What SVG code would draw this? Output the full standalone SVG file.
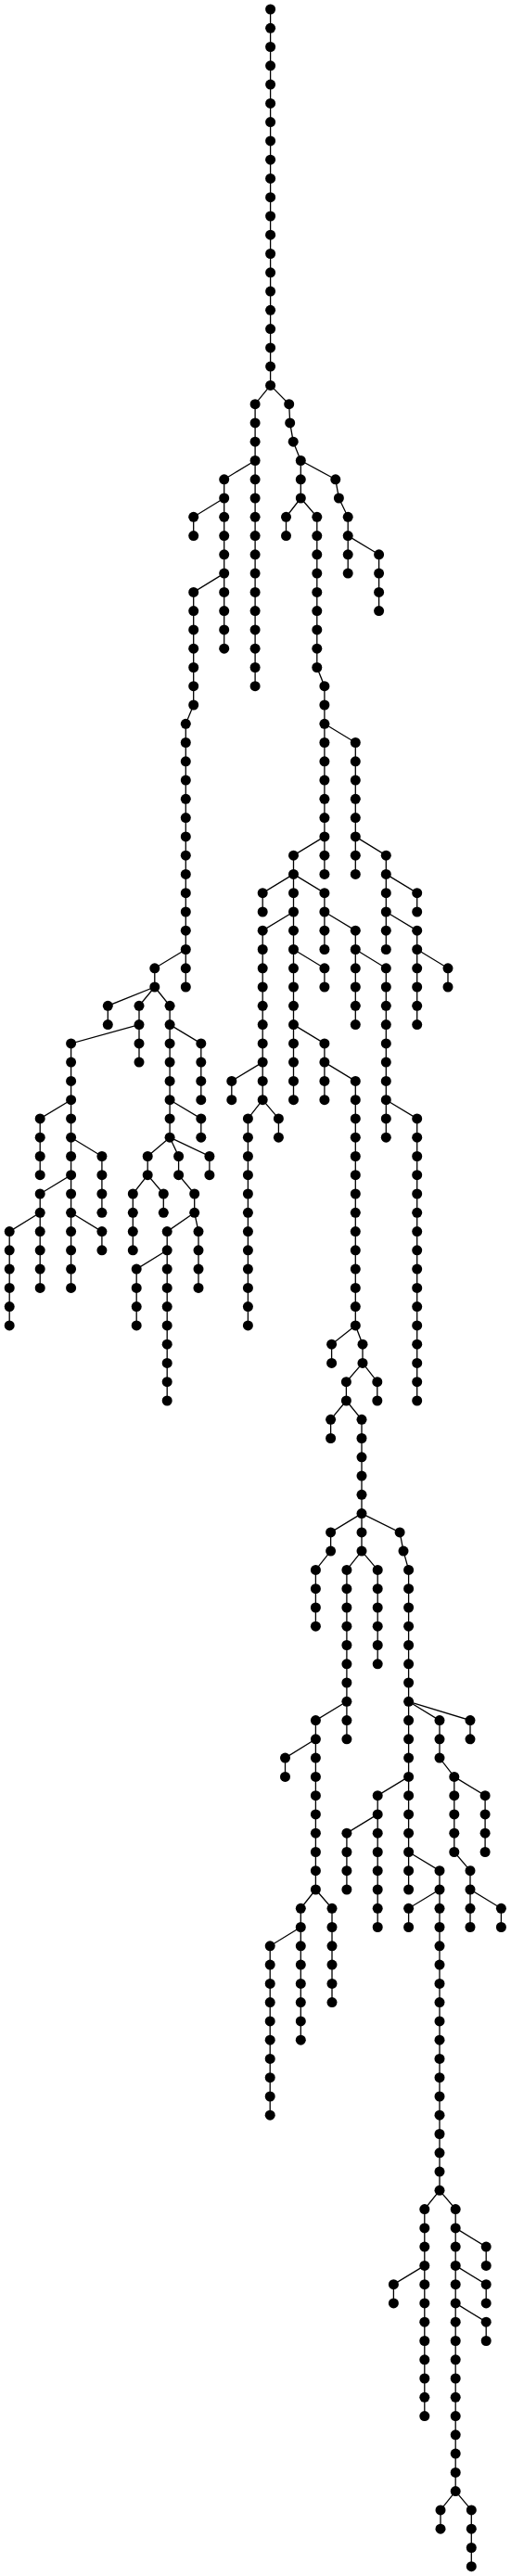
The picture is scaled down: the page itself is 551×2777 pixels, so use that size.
<svg xmlns="http://www.w3.org/2000/svg" width="551" height="2777" viewBox="0 0 551 2777">
<style>
.e path{fill:none;stroke:#000;stroke-width:1.3}
</style>
<defs><circle id="d" cx="0" cy="0" r="5.5" fill="#000"/></defs>
<rect width="551" height="2777" fill="#fff"/>
<g class="e" id="connectors">
<path d="M291.6,10 V415.4"/>
<path d="M291.6,415.4 L275.1,435.7 V739.7"/>
<path d="M291.6,415.4 L311.7,435.7 L312.7,455.9 L316.2,476.2 L324.3,496.5 V537"/>
<path d="M275.1,496.5 L241.7,516.8 V699.2"/>
<path d="M241.7,537 L208.7,557.3 V577.6"/>
<path d="M241.7,618.1 L208.7,638.4 V760 L200.3,780.3 V1064"/>
<path d="M200.3,1023.5 L166.8,1043.8 V1064"/>
<path d="M166.8,1064 L116.3,1084.3 V1104.6"/>
<path d="M166.8,1064 L150,1084.3 V1145.1"/>
<path d="M166.8,1064 L183.1,1084.3 V1226.2"/>
<path d="M150,1104.6 L76.6,1124.9 V1388.4"/>
<path d="M76.6,1185.7 L43.2,1205.9 V1266.7"/>
<path d="M76.6,1226.2 L109.9,1246.5 V1307.3"/>
<path d="M76.6,1266.7 L43.2,1287 V1388.4"/>
<path d="M43.2,1307.3 L10.2,1327.6 V1428.9"/>
<path d="M76.6,1307.3 L109.9,1327.6 V1347.8"/>
<path d="M183.1,1104.6 L216.8,1124.9 V1185.7"/>
<path d="M183.1,1185.7 L216.8,1205.9 V1226.2"/>
<path d="M183.1,1226.2 L159.2,1246.5 V1266.7"/>
<path d="M183.1,1226.2 L192.6,1246.5 V1266.7"/>
<path d="M183.1,1226.2 L225.9,1246.5 V1266.7"/>
<path d="M159.2,1266.7 L143.3,1287 V1347.8"/>
<path d="M159.2,1266.7 L176.3,1287 V1307.3"/>
<path d="M192.6,1266.7 L209.7,1287 V1307.3"/>
<path d="M209.7,1307.3 L180.2,1327.6 V1510"/>
<path d="M209.7,1307.3 L214,1327.6 V1388.4"/>
<path d="M180.2,1347.8 L147.2,1368.1 V1428.9"/>
<path d="M324.3,537 L308.5,557.3 V577.6"/>
<path d="M324.3,537 L341.8,557.3 V719.5 L349.9,739.7 V942.4"/>
<path d="M349.9,780.3 L383.3,800.5 V942.4"/>
<path d="M383.3,901.9 L416.3,922.2 V1023.5"/>
<path d="M416.3,942.4 L449.7,962.7 V983"/>
<path d="M416.3,983 L449.7,1003.2 V1104.6"/>
<path d="M449.7,1023.5 L483,1043.8 V1064"/>
<path d="M349.9,901.9 L316.5,922.2 V1185.7"/>
<path d="M316.5,942.4 L283.2,962.7 V983"/>
<path d="M316.5,942.4 L349.9,962.7 V1023.5"/>
<path d="M349.9,983 L383.3,1003.2 V1104.6"/>
<path d="M383.3,1023.5 L416.3,1043.8 V1226.2"/>
<path d="M416.3,1185.7 L449.7,1205.9 V1510"/>
<path d="M316.5,983 L283.2,1003.2 V1185.7"/>
<path d="M283.2,1145.1 L249.8,1165.4 V1185.7"/>
<path d="M283.2,1185.7 L267.4,1205.9 V1428.9"/>
<path d="M283.2,1185.7 L300.4,1205.9 V1226.2"/>
<path d="M316.5,1023.5 L349.9,1043.8 V1064"/>
<path d="M316.5,1104.6 L349.9,1124.9 V1185.7"/>
<path d="M349.9,1145.1 L383.3,1165.4 V1428.9"/>
<path d="M383.3,1428.9 L357.6,1449.2 V1469.4"/>
<path d="M383.3,1428.9 L391,1449.2 V1469.4"/>
<path d="M391,1469.4 L406.8,1489.7 V1510"/>
<path d="M391,1469.4 L373.4,1489.7 V1510"/>
<path d="M373.4,1510 L356.6,1530.3 V1550.5"/>
<path d="M373.4,1510 L390,1530.3 V1672.1"/>
<path d="M324.3,496.5 L361.8,516.8 L365.4,537 L375.2,557.3 V618.1"/>
<path d="M375.2,577.6 L408.6,597.8 V658.6"/>
<path d="M390,1631.6 L356.6,1651.9 V1672.1 L340.4,1692.4 V1753.2"/>
<path d="M390,1631.6 L431.1,1651.9 L435,1672.1 L440.6,1692.4 V2037"/>
<path d="M390,1672.1 L373.9,1692.4 V1874.8"/>
<path d="M390,1672.1 L407.2,1692.4 V1793.8"/>
<path d="M373.9,1834.3 L340.4,1854.6 V2037"/>
<path d="M340.4,1874.8 L307.5,1895.1 V1915.4"/>
<path d="M340.4,2037 L324.3,2057.3 V2199.2"/>
<path d="M340.4,2037 L358,2057.3 V2158.6"/>
<path d="M324.3,2077.5 L291.2,2097.8 V2280.2"/>
<path d="M440.6,1834.3 L474,1854.6 V1895.1 L489.8,1915.4 V1996.5 L507,2016.7 V2077.5"/>
<path d="M440.6,1834.3 L507,1854.6 V1874.8"/>
<path d="M489.8,1915.4 L523.1,1935.7 V1996.5"/>
<path d="M507,2037 L540.4,2057.3 V2077.5"/>
<path d="M440.6,1915.4 L407.2,1935.7 V2077.5"/>
<path d="M407.2,1955.9 L373.9,1976.2 V2037"/>
<path d="M440.6,1996.5 L474,2016.7 V2361.3"/>
<path d="M474,2037 L440.6,2057.3 V2077.5"/>
<path d="M474,2361.3 L457.8,2381.6 V2604.6"/>
<path d="M457.8,2442.4 L424.4,2462.7 V2482.9"/>
<path d="M474,2361.3 L491.2,2381.6 V2685.6"/>
<path d="M491.2,2401.9 L524.2,2422.1 V2442.4"/>
<path d="M491.2,2442.4 L524.2,2462.7 V2482.9"/>
<path d="M491.2,2482.9 L524.2,2503.2 V2523.5"/>
<path d="M491.2,2685.6 L475,2705.9 V2726.2"/>
<path d="M491.2,2685.6 L508.3,2705.9 V2766.7"/>
</g>
<g id="nodes">
<g id="n1"><use href="#d" x="291.6" y="10"/></g>
<g id="n2"><use href="#d" x="291.6" y="30.3"/></g>
<g id="n3"><use href="#d" x="291.6" y="50.5"/></g>
<g id="n4"><use href="#d" x="291.6" y="70.8"/></g>
<g id="n5"><use href="#d" x="291.6" y="91.1"/></g>
<g id="n6"><use href="#d" x="291.6" y="111.4"/></g>
<g id="n7"><use href="#d" x="291.6" y="131.6"/></g>
<g id="n8"><use href="#d" x="291.6" y="151.9"/></g>
<g id="n9"><use href="#d" x="291.6" y="172.2"/></g>
<g id="n10"><use href="#d" x="291.6" y="192.4"/></g>
<g id="n11"><use href="#d" x="291.6" y="212.7"/></g>
<g id="n12"><use href="#d" x="291.6" y="233"/></g>
<g id="n13"><use href="#d" x="291.6" y="253.2"/></g>
<g id="n14"><use href="#d" x="291.6" y="273.5"/></g>
<g id="n15"><use href="#d" x="291.6" y="293.8"/></g>
<g id="n16"><use href="#d" x="291.6" y="314.1"/></g>
<g id="n17"><use href="#d" x="291.6" y="334.3"/></g>
<g id="n18"><use href="#d" x="291.6" y="354.6"/></g>
<g id="n19"><use href="#d" x="291.6" y="374.9"/></g>
<g id="n20"><use href="#d" x="291.6" y="395.1"/></g>
<g id="n21"><use href="#d" x="291.6" y="415.4"/></g>
<g id="n22"><use href="#d" x="275.1" y="435.7"/></g>
<g id="n23"><use href="#d" x="275.1" y="455.9"/></g>
<g id="n24"><use href="#d" x="275.1" y="476.2"/></g>
<g id="n25"><use href="#d" x="275.1" y="496.5"/></g>
<g id="n26"><use href="#d" x="275.1" y="516.8"/></g>
<g id="n27"><use href="#d" x="275.1" y="537"/></g>
<g id="n28"><use href="#d" x="275.1" y="557.3"/></g>
<g id="n29"><use href="#d" x="275.1" y="577.6"/></g>
<g id="n30"><use href="#d" x="275.1" y="597.8"/></g>
<g id="n31"><use href="#d" x="275.1" y="618.1"/></g>
<g id="n32"><use href="#d" x="275.1" y="638.4"/></g>
<g id="n33"><use href="#d" x="275.1" y="658.6"/></g>
<g id="n34"><use href="#d" x="275.1" y="678.9"/></g>
<g id="n35"><use href="#d" x="275.1" y="699.2"/></g>
<g id="n36"><use href="#d" x="275.1" y="719.5"/></g>
<g id="n37"><use href="#d" x="275.1" y="739.7"/></g>
<g id="n38"><use href="#d" x="311.7" y="435.7"/></g>
<g id="n39"><use href="#d" x="312.7" y="455.9"/></g>
<g id="n40"><use href="#d" x="316.2" y="476.2"/></g>
<g id="n41"><use href="#d" x="324.3" y="496.5"/></g>
<g id="n42"><use href="#d" x="324.3" y="516.8"/></g>
<g id="n43"><use href="#d" x="324.3" y="537"/></g>
<g id="n44"><use href="#d" x="241.7" y="516.8"/></g>
<g id="n45"><use href="#d" x="241.7" y="537"/></g>
<g id="n46"><use href="#d" x="241.7" y="557.3"/></g>
<g id="n47"><use href="#d" x="241.7" y="577.6"/></g>
<g id="n48"><use href="#d" x="241.7" y="597.8"/></g>
<g id="n49"><use href="#d" x="241.7" y="618.1"/></g>
<g id="n50"><use href="#d" x="241.7" y="638.4"/></g>
<g id="n51"><use href="#d" x="241.7" y="658.6"/></g>
<g id="n52"><use href="#d" x="241.7" y="678.9"/></g>
<g id="n53"><use href="#d" x="241.7" y="699.2"/></g>
<g id="n54"><use href="#d" x="208.7" y="557.3"/></g>
<g id="n55"><use href="#d" x="208.7" y="577.6"/></g>
<g id="n56"><use href="#d" x="208.7" y="638.4"/></g>
<g id="n57"><use href="#d" x="208.7" y="658.6"/></g>
<g id="n58"><use href="#d" x="208.7" y="678.9"/></g>
<g id="n59"><use href="#d" x="208.7" y="699.2"/></g>
<g id="n60"><use href="#d" x="208.7" y="719.5"/></g>
<g id="n61"><use href="#d" x="208.7" y="739.7"/></g>
<g id="n62"><use href="#d" x="208.7" y="760"/></g>
<g id="n63"><use href="#d" x="200.3" y="780.3"/></g>
<g id="n64"><use href="#d" x="200.3" y="800.5"/></g>
<g id="n65"><use href="#d" x="200.3" y="820.8"/></g>
<g id="n66"><use href="#d" x="200.3" y="841.1"/></g>
<g id="n67"><use href="#d" x="200.3" y="861.3"/></g>
<g id="n68"><use href="#d" x="200.3" y="881.6"/></g>
<g id="n69"><use href="#d" x="200.3" y="901.9"/></g>
<g id="n70"><use href="#d" x="200.3" y="922.2"/></g>
<g id="n71"><use href="#d" x="200.3" y="942.4"/></g>
<g id="n72"><use href="#d" x="200.3" y="962.7"/></g>
<g id="n73"><use href="#d" x="200.3" y="983"/></g>
<g id="n74"><use href="#d" x="200.3" y="1003.2"/></g>
<g id="n75"><use href="#d" x="200.3" y="1023.5"/></g>
<g id="n76"><use href="#d" x="200.3" y="1043.8"/></g>
<g id="n77"><use href="#d" x="200.3" y="1064"/></g>
<g id="n78"><use href="#d" x="166.8" y="1043.8"/></g>
<g id="n79"><use href="#d" x="166.8" y="1064"/></g>
<g id="n80"><use href="#d" x="116.3" y="1084.3"/></g>
<g id="n81"><use href="#d" x="116.3" y="1104.6"/></g>
<g id="n82"><use href="#d" x="150" y="1084.3"/></g>
<g id="n83"><use href="#d" x="150" y="1104.6"/></g>
<g id="n84"><use href="#d" x="150" y="1124.9"/></g>
<g id="n85"><use href="#d" x="150" y="1145.1"/></g>
<g id="n86"><use href="#d" x="183.1" y="1084.3"/></g>
<g id="n87"><use href="#d" x="183.1" y="1104.6"/></g>
<g id="n88"><use href="#d" x="183.1" y="1124.9"/></g>
<g id="n89"><use href="#d" x="183.1" y="1145.1"/></g>
<g id="n90"><use href="#d" x="183.1" y="1165.4"/></g>
<g id="n91"><use href="#d" x="183.1" y="1185.7"/></g>
<g id="n92"><use href="#d" x="183.1" y="1205.9"/></g>
<g id="n93"><use href="#d" x="183.1" y="1226.2"/></g>
<g id="n94"><use href="#d" x="76.6" y="1124.9"/></g>
<g id="n95"><use href="#d" x="76.6" y="1145.1"/></g>
<g id="n96"><use href="#d" x="76.6" y="1165.4"/></g>
<g id="n97"><use href="#d" x="76.6" y="1185.7"/></g>
<g id="n98"><use href="#d" x="76.6" y="1205.9"/></g>
<g id="n99"><use href="#d" x="76.6" y="1226.2"/></g>
<g id="n100"><use href="#d" x="76.6" y="1246.5"/></g>
<g id="n101"><use href="#d" x="76.6" y="1266.7"/></g>
<g id="n102"><use href="#d" x="76.6" y="1287"/></g>
<g id="n103"><use href="#d" x="76.6" y="1307.3"/></g>
<g id="n104"><use href="#d" x="76.6" y="1327.6"/></g>
<g id="n105"><use href="#d" x="76.6" y="1347.8"/></g>
<g id="n106"><use href="#d" x="76.6" y="1368.1"/></g>
<g id="n107"><use href="#d" x="76.6" y="1388.4"/></g>
<g id="n108"><use href="#d" x="43.2" y="1205.9"/></g>
<g id="n109"><use href="#d" x="43.2" y="1226.2"/></g>
<g id="n110"><use href="#d" x="43.2" y="1246.5"/></g>
<g id="n111"><use href="#d" x="43.2" y="1266.7"/></g>
<g id="n112"><use href="#d" x="109.9" y="1246.5"/></g>
<g id="n113"><use href="#d" x="109.9" y="1266.7"/></g>
<g id="n114"><use href="#d" x="109.9" y="1287"/></g>
<g id="n115"><use href="#d" x="109.9" y="1307.3"/></g>
<g id="n116"><use href="#d" x="43.2" y="1287"/></g>
<g id="n117"><use href="#d" x="43.2" y="1307.3"/></g>
<g id="n118"><use href="#d" x="43.2" y="1327.6"/></g>
<g id="n119"><use href="#d" x="43.2" y="1347.8"/></g>
<g id="n120"><use href="#d" x="43.2" y="1368.1"/></g>
<g id="n121"><use href="#d" x="43.2" y="1388.4"/></g>
<g id="n122"><use href="#d" x="10.2" y="1327.6"/></g>
<g id="n123"><use href="#d" x="10.2" y="1347.8"/></g>
<g id="n124"><use href="#d" x="10.2" y="1368.1"/></g>
<g id="n125"><use href="#d" x="10.2" y="1388.4"/></g>
<g id="n126"><use href="#d" x="10.2" y="1408.6"/></g>
<g id="n127"><use href="#d" x="10.2" y="1428.9"/></g>
<g id="n128"><use href="#d" x="109.9" y="1327.6"/></g>
<g id="n129"><use href="#d" x="109.9" y="1347.8"/></g>
<g id="n130"><use href="#d" x="216.8" y="1124.9"/></g>
<g id="n131"><use href="#d" x="216.8" y="1145.1"/></g>
<g id="n132"><use href="#d" x="216.8" y="1165.4"/></g>
<g id="n133"><use href="#d" x="216.8" y="1185.7"/></g>
<g id="n134"><use href="#d" x="216.8" y="1205.9"/></g>
<g id="n135"><use href="#d" x="216.8" y="1226.2"/></g>
<g id="n136"><use href="#d" x="159.2" y="1246.5"/></g>
<g id="n137"><use href="#d" x="159.2" y="1266.7"/></g>
<g id="n138"><use href="#d" x="192.6" y="1246.5"/></g>
<g id="n139"><use href="#d" x="192.6" y="1266.7"/></g>
<g id="n140"><use href="#d" x="225.9" y="1246.5"/></g>
<g id="n141"><use href="#d" x="225.9" y="1266.7"/></g>
<g id="n142"><use href="#d" x="143.3" y="1287"/></g>
<g id="n143"><use href="#d" x="143.3" y="1307.3"/></g>
<g id="n144"><use href="#d" x="143.3" y="1327.6"/></g>
<g id="n145"><use href="#d" x="143.3" y="1347.8"/></g>
<g id="n146"><use href="#d" x="176.3" y="1287"/></g>
<g id="n147"><use href="#d" x="176.3" y="1307.3"/></g>
<g id="n148"><use href="#d" x="209.7" y="1287"/></g>
<g id="n149"><use href="#d" x="209.7" y="1307.3"/></g>
<g id="n150"><use href="#d" x="180.2" y="1327.6"/></g>
<g id="n151"><use href="#d" x="180.2" y="1347.8"/></g>
<g id="n152"><use href="#d" x="180.2" y="1368.1"/></g>
<g id="n153"><use href="#d" x="180.2" y="1388.4"/></g>
<g id="n154"><use href="#d" x="180.2" y="1408.6"/></g>
<g id="n155"><use href="#d" x="180.2" y="1428.9"/></g>
<g id="n156"><use href="#d" x="180.2" y="1449.2"/></g>
<g id="n157"><use href="#d" x="180.2" y="1469.4"/></g>
<g id="n158"><use href="#d" x="180.2" y="1489.7"/></g>
<g id="n159"><use href="#d" x="180.2" y="1510"/></g>
<g id="n160"><use href="#d" x="214" y="1327.6"/></g>
<g id="n161"><use href="#d" x="214" y="1347.8"/></g>
<g id="n162"><use href="#d" x="214" y="1368.1"/></g>
<g id="n163"><use href="#d" x="214" y="1388.4"/></g>
<g id="n164"><use href="#d" x="147.2" y="1368.1"/></g>
<g id="n165"><use href="#d" x="147.2" y="1388.4"/></g>
<g id="n166"><use href="#d" x="147.2" y="1408.6"/></g>
<g id="n167"><use href="#d" x="147.2" y="1428.9"/></g>
<g id="n168"><use href="#d" x="308.5" y="557.3"/></g>
<g id="n169"><use href="#d" x="308.5" y="577.6"/></g>
<g id="n170"><use href="#d" x="341.8" y="557.3"/></g>
<g id="n171"><use href="#d" x="341.8" y="577.6"/></g>
<g id="n172"><use href="#d" x="341.8" y="597.8"/></g>
<g id="n173"><use href="#d" x="341.8" y="618.1"/></g>
<g id="n174"><use href="#d" x="341.8" y="638.4"/></g>
<g id="n175"><use href="#d" x="341.8" y="658.6"/></g>
<g id="n176"><use href="#d" x="341.8" y="678.9"/></g>
<g id="n177"><use href="#d" x="341.8" y="699.2"/></g>
<g id="n178"><use href="#d" x="341.8" y="719.5"/></g>
<g id="n179"><use href="#d" x="349.9" y="739.7"/></g>
<g id="n180"><use href="#d" x="349.9" y="760"/></g>
<g id="n181"><use href="#d" x="349.9" y="780.3"/></g>
<g id="n182"><use href="#d" x="349.9" y="800.5"/></g>
<g id="n183"><use href="#d" x="349.9" y="820.8"/></g>
<g id="n184"><use href="#d" x="349.9" y="841.1"/></g>
<g id="n185"><use href="#d" x="349.9" y="861.3"/></g>
<g id="n186"><use href="#d" x="349.9" y="881.6"/></g>
<g id="n187"><use href="#d" x="349.9" y="901.9"/></g>
<g id="n188"><use href="#d" x="349.9" y="922.2"/></g>
<g id="n189"><use href="#d" x="349.9" y="942.4"/></g>
<g id="n190"><use href="#d" x="383.3" y="800.5"/></g>
<g id="n191"><use href="#d" x="383.3" y="820.8"/></g>
<g id="n192"><use href="#d" x="383.3" y="841.1"/></g>
<g id="n193"><use href="#d" x="383.3" y="861.3"/></g>
<g id="n194"><use href="#d" x="383.3" y="881.6"/></g>
<g id="n195"><use href="#d" x="383.3" y="901.9"/></g>
<g id="n196"><use href="#d" x="383.3" y="922.2"/></g>
<g id="n197"><use href="#d" x="383.3" y="942.4"/></g>
<g id="n198"><use href="#d" x="416.3" y="922.2"/></g>
<g id="n199"><use href="#d" x="416.3" y="942.4"/></g>
<g id="n200"><use href="#d" x="416.3" y="962.7"/></g>
<g id="n201"><use href="#d" x="416.3" y="983"/></g>
<g id="n202"><use href="#d" x="416.3" y="1003.2"/></g>
<g id="n203"><use href="#d" x="416.3" y="1023.5"/></g>
<g id="n204"><use href="#d" x="449.7" y="962.7"/></g>
<g id="n205"><use href="#d" x="449.7" y="983"/></g>
<g id="n206"><use href="#d" x="449.7" y="1003.2"/></g>
<g id="n207"><use href="#d" x="449.7" y="1023.5"/></g>
<g id="n208"><use href="#d" x="449.7" y="1043.8"/></g>
<g id="n209"><use href="#d" x="449.7" y="1064"/></g>
<g id="n210"><use href="#d" x="449.7" y="1084.3"/></g>
<g id="n211"><use href="#d" x="449.7" y="1104.6"/></g>
<g id="n212"><use href="#d" x="483" y="1043.8"/></g>
<g id="n213"><use href="#d" x="483" y="1064"/></g>
<g id="n214"><use href="#d" x="316.5" y="922.2"/></g>
<g id="n215"><use href="#d" x="316.5" y="942.4"/></g>
<g id="n216"><use href="#d" x="316.5" y="962.7"/></g>
<g id="n217"><use href="#d" x="316.5" y="983"/></g>
<g id="n218"><use href="#d" x="316.5" y="1003.2"/></g>
<g id="n219"><use href="#d" x="316.5" y="1023.5"/></g>
<g id="n220"><use href="#d" x="316.5" y="1043.8"/></g>
<g id="n221"><use href="#d" x="316.5" y="1064"/></g>
<g id="n222"><use href="#d" x="316.5" y="1084.3"/></g>
<g id="n223"><use href="#d" x="316.5" y="1104.6"/></g>
<g id="n224"><use href="#d" x="316.5" y="1124.9"/></g>
<g id="n225"><use href="#d" x="316.5" y="1145.1"/></g>
<g id="n226"><use href="#d" x="316.5" y="1165.4"/></g>
<g id="n227"><use href="#d" x="316.5" y="1185.7"/></g>
<g id="n228"><use href="#d" x="283.2" y="962.7"/></g>
<g id="n229"><use href="#d" x="283.2" y="983"/></g>
<g id="n230"><use href="#d" x="349.9" y="962.7"/></g>
<g id="n231"><use href="#d" x="349.9" y="983"/></g>
<g id="n232"><use href="#d" x="349.9" y="1003.2"/></g>
<g id="n233"><use href="#d" x="349.9" y="1023.5"/></g>
<g id="n234"><use href="#d" x="383.3" y="1003.2"/></g>
<g id="n235"><use href="#d" x="383.3" y="1023.5"/></g>
<g id="n236"><use href="#d" x="383.3" y="1043.8"/></g>
<g id="n237"><use href="#d" x="383.3" y="1064"/></g>
<g id="n238"><use href="#d" x="383.3" y="1084.3"/></g>
<g id="n239"><use href="#d" x="383.3" y="1104.6"/></g>
<g id="n240"><use href="#d" x="416.3" y="1043.8"/></g>
<g id="n241"><use href="#d" x="416.3" y="1064"/></g>
<g id="n242"><use href="#d" x="416.3" y="1084.3"/></g>
<g id="n243"><use href="#d" x="416.3" y="1104.6"/></g>
<g id="n244"><use href="#d" x="416.3" y="1124.9"/></g>
<g id="n245"><use href="#d" x="416.3" y="1145.1"/></g>
<g id="n246"><use href="#d" x="416.3" y="1165.4"/></g>
<g id="n247"><use href="#d" x="416.3" y="1185.7"/></g>
<g id="n248"><use href="#d" x="416.3" y="1205.9"/></g>
<g id="n249"><use href="#d" x="416.3" y="1226.2"/></g>
<g id="n250"><use href="#d" x="449.7" y="1205.9"/></g>
<g id="n251"><use href="#d" x="449.7" y="1226.2"/></g>
<g id="n252"><use href="#d" x="449.7" y="1246.5"/></g>
<g id="n253"><use href="#d" x="449.7" y="1266.7"/></g>
<g id="n254"><use href="#d" x="449.7" y="1287"/></g>
<g id="n255"><use href="#d" x="449.7" y="1307.3"/></g>
<g id="n256"><use href="#d" x="449.7" y="1327.6"/></g>
<g id="n257"><use href="#d" x="449.7" y="1347.8"/></g>
<g id="n258"><use href="#d" x="449.7" y="1368.1"/></g>
<g id="n259"><use href="#d" x="449.7" y="1388.4"/></g>
<g id="n260"><use href="#d" x="449.7" y="1408.6"/></g>
<g id="n261"><use href="#d" x="449.7" y="1428.9"/></g>
<g id="n262"><use href="#d" x="449.7" y="1449.2"/></g>
<g id="n263"><use href="#d" x="449.7" y="1469.4"/></g>
<g id="n264"><use href="#d" x="449.7" y="1489.7"/></g>
<g id="n265"><use href="#d" x="449.7" y="1510"/></g>
<g id="n266"><use href="#d" x="283.2" y="1003.2"/></g>
<g id="n267"><use href="#d" x="283.2" y="1023.5"/></g>
<g id="n268"><use href="#d" x="283.2" y="1043.8"/></g>
<g id="n269"><use href="#d" x="283.2" y="1064"/></g>
<g id="n270"><use href="#d" x="283.2" y="1084.3"/></g>
<g id="n271"><use href="#d" x="283.2" y="1104.6"/></g>
<g id="n272"><use href="#d" x="283.2" y="1124.9"/></g>
<g id="n273"><use href="#d" x="283.2" y="1145.1"/></g>
<g id="n274"><use href="#d" x="283.2" y="1165.4"/></g>
<g id="n275"><use href="#d" x="283.2" y="1185.7"/></g>
<g id="n276"><use href="#d" x="249.8" y="1165.4"/></g>
<g id="n277"><use href="#d" x="249.8" y="1185.7"/></g>
<g id="n278"><use href="#d" x="267.4" y="1205.9"/></g>
<g id="n279"><use href="#d" x="267.4" y="1226.2"/></g>
<g id="n280"><use href="#d" x="267.4" y="1246.5"/></g>
<g id="n281"><use href="#d" x="267.4" y="1266.7"/></g>
<g id="n282"><use href="#d" x="267.4" y="1287"/></g>
<g id="n283"><use href="#d" x="267.4" y="1307.3"/></g>
<g id="n284"><use href="#d" x="267.4" y="1327.6"/></g>
<g id="n285"><use href="#d" x="267.4" y="1347.8"/></g>
<g id="n286"><use href="#d" x="267.4" y="1368.1"/></g>
<g id="n287"><use href="#d" x="267.4" y="1388.4"/></g>
<g id="n288"><use href="#d" x="267.4" y="1408.6"/></g>
<g id="n289"><use href="#d" x="267.4" y="1428.9"/></g>
<g id="n290"><use href="#d" x="300.4" y="1205.9"/></g>
<g id="n291"><use href="#d" x="300.4" y="1226.2"/></g>
<g id="n292"><use href="#d" x="349.9" y="1043.8"/></g>
<g id="n293"><use href="#d" x="349.9" y="1064"/></g>
<g id="n294"><use href="#d" x="349.9" y="1124.9"/></g>
<g id="n295"><use href="#d" x="349.9" y="1145.1"/></g>
<g id="n296"><use href="#d" x="349.9" y="1165.4"/></g>
<g id="n297"><use href="#d" x="349.9" y="1185.7"/></g>
<g id="n298"><use href="#d" x="383.3" y="1165.4"/></g>
<g id="n299"><use href="#d" x="383.3" y="1185.7"/></g>
<g id="n300"><use href="#d" x="383.3" y="1205.9"/></g>
<g id="n301"><use href="#d" x="383.3" y="1226.2"/></g>
<g id="n302"><use href="#d" x="383.3" y="1246.5"/></g>
<g id="n303"><use href="#d" x="383.3" y="1266.7"/></g>
<g id="n304"><use href="#d" x="383.3" y="1287"/></g>
<g id="n305"><use href="#d" x="383.3" y="1307.3"/></g>
<g id="n306"><use href="#d" x="383.3" y="1327.6"/></g>
<g id="n307"><use href="#d" x="383.3" y="1347.8"/></g>
<g id="n308"><use href="#d" x="383.3" y="1368.1"/></g>
<g id="n309"><use href="#d" x="383.3" y="1388.4"/></g>
<g id="n310"><use href="#d" x="383.3" y="1408.6"/></g>
<g id="n311"><use href="#d" x="383.3" y="1428.9"/></g>
<g id="n312"><use href="#d" x="357.6" y="1449.2"/></g>
<g id="n313"><use href="#d" x="357.6" y="1469.4"/></g>
<g id="n314"><use href="#d" x="391" y="1449.2"/></g>
<g id="n315"><use href="#d" x="391" y="1469.4"/></g>
<g id="n316"><use href="#d" x="406.8" y="1489.7"/></g>
<g id="n317"><use href="#d" x="406.8" y="1510"/></g>
<g id="n318"><use href="#d" x="373.4" y="1489.7"/></g>
<g id="n319"><use href="#d" x="373.4" y="1510"/></g>
<g id="n320"><use href="#d" x="356.6" y="1530.3"/></g>
<g id="n321"><use href="#d" x="356.6" y="1550.5"/></g>
<g id="n322"><use href="#d" x="390" y="1530.3"/></g>
<g id="n323"><use href="#d" x="390" y="1550.5"/></g>
<g id="n324"><use href="#d" x="390" y="1570.8"/></g>
<g id="n325"><use href="#d" x="390" y="1591.1"/></g>
<g id="n326"><use href="#d" x="390" y="1611.3"/></g>
<g id="n327"><use href="#d" x="390" y="1631.6"/></g>
<g id="n328"><use href="#d" x="390" y="1651.9"/></g>
<g id="n329"><use href="#d" x="390" y="1672.1"/></g>
<g id="n330"><use href="#d" x="361.8" y="516.8"/></g>
<g id="n331"><use href="#d" x="365.4" y="537"/></g>
<g id="n332"><use href="#d" x="375.2" y="557.3"/></g>
<g id="n333"><use href="#d" x="375.2" y="577.6"/></g>
<g id="n334"><use href="#d" x="375.2" y="597.8"/></g>
<g id="n335"><use href="#d" x="375.2" y="618.1"/></g>
<g id="n336"><use href="#d" x="408.6" y="597.8"/></g>
<g id="n337"><use href="#d" x="408.6" y="618.1"/></g>
<g id="n338"><use href="#d" x="408.6" y="638.4"/></g>
<g id="n339"><use href="#d" x="408.6" y="658.6"/></g>
<g id="n340"><use href="#d" x="356.6" y="1651.9"/></g>
<g id="n341"><use href="#d" x="356.6" y="1672.1"/></g>
<g id="n342"><use href="#d" x="340.4" y="1692.4"/></g>
<g id="n343"><use href="#d" x="340.4" y="1712.7"/></g>
<g id="n344"><use href="#d" x="340.4" y="1733"/></g>
<g id="n345"><use href="#d" x="340.4" y="1753.2"/></g>
<g id="n346"><use href="#d" x="431.1" y="1651.9"/></g>
<g id="n347"><use href="#d" x="435" y="1672.1"/></g>
<g id="n348"><use href="#d" x="440.6" y="1692.4"/></g>
<g id="n349"><use href="#d" x="440.6" y="1712.7"/></g>
<g id="n350"><use href="#d" x="440.6" y="1733"/></g>
<g id="n351"><use href="#d" x="440.6" y="1753.2"/></g>
<g id="n352"><use href="#d" x="440.6" y="1773.5"/></g>
<g id="n353"><use href="#d" x="440.6" y="1793.8"/></g>
<g id="n354"><use href="#d" x="440.6" y="1814"/></g>
<g id="n355"><use href="#d" x="440.6" y="1834.3"/></g>
<g id="n356"><use href="#d" x="440.6" y="1854.6"/></g>
<g id="n357"><use href="#d" x="440.6" y="1874.8"/></g>
<g id="n358"><use href="#d" x="440.6" y="1895.1"/></g>
<g id="n359"><use href="#d" x="440.6" y="1915.4"/></g>
<g id="n360"><use href="#d" x="440.6" y="1935.7"/></g>
<g id="n361"><use href="#d" x="440.6" y="1955.9"/></g>
<g id="n362"><use href="#d" x="440.6" y="1976.2"/></g>
<g id="n363"><use href="#d" x="440.6" y="1996.5"/></g>
<g id="n364"><use href="#d" x="440.6" y="2016.7"/></g>
<g id="n365"><use href="#d" x="440.6" y="2037"/></g>
<g id="n366"><use href="#d" x="373.9" y="1692.4"/></g>
<g id="n367"><use href="#d" x="373.9" y="1712.7"/></g>
<g id="n368"><use href="#d" x="373.9" y="1733"/></g>
<g id="n369"><use href="#d" x="373.9" y="1753.2"/></g>
<g id="n370"><use href="#d" x="373.9" y="1773.5"/></g>
<g id="n371"><use href="#d" x="373.9" y="1793.8"/></g>
<g id="n372"><use href="#d" x="373.9" y="1814"/></g>
<g id="n373"><use href="#d" x="373.9" y="1834.3"/></g>
<g id="n374"><use href="#d" x="373.9" y="1854.6"/></g>
<g id="n375"><use href="#d" x="373.9" y="1874.8"/></g>
<g id="n376"><use href="#d" x="407.2" y="1692.4"/></g>
<g id="n377"><use href="#d" x="407.2" y="1712.7"/></g>
<g id="n378"><use href="#d" x="407.2" y="1733"/></g>
<g id="n379"><use href="#d" x="407.2" y="1753.2"/></g>
<g id="n380"><use href="#d" x="407.2" y="1773.5"/></g>
<g id="n381"><use href="#d" x="407.2" y="1793.8"/></g>
<g id="n382"><use href="#d" x="340.4" y="1854.6"/></g>
<g id="n383"><use href="#d" x="340.4" y="1874.8"/></g>
<g id="n384"><use href="#d" x="340.4" y="1895.1"/></g>
<g id="n385"><use href="#d" x="340.4" y="1915.4"/></g>
<g id="n386"><use href="#d" x="340.4" y="1935.7"/></g>
<g id="n387"><use href="#d" x="340.4" y="1955.9"/></g>
<g id="n388"><use href="#d" x="340.4" y="1976.2"/></g>
<g id="n389"><use href="#d" x="340.4" y="1996.5"/></g>
<g id="n390"><use href="#d" x="340.4" y="2016.7"/></g>
<g id="n391"><use href="#d" x="340.4" y="2037"/></g>
<g id="n392"><use href="#d" x="307.5" y="1895.1"/></g>
<g id="n393"><use href="#d" x="307.5" y="1915.4"/></g>
<g id="n394"><use href="#d" x="324.3" y="2057.3"/></g>
<g id="n395"><use href="#d" x="324.3" y="2077.5"/></g>
<g id="n396"><use href="#d" x="324.3" y="2097.8"/></g>
<g id="n397"><use href="#d" x="324.3" y="2118.1"/></g>
<g id="n398"><use href="#d" x="324.3" y="2138.4"/></g>
<g id="n399"><use href="#d" x="324.3" y="2158.6"/></g>
<g id="n400"><use href="#d" x="324.3" y="2178.9"/></g>
<g id="n401"><use href="#d" x="324.3" y="2199.2"/></g>
<g id="n402"><use href="#d" x="358" y="2057.3"/></g>
<g id="n403"><use href="#d" x="358" y="2077.5"/></g>
<g id="n404"><use href="#d" x="358" y="2097.8"/></g>
<g id="n405"><use href="#d" x="358" y="2118.1"/></g>
<g id="n406"><use href="#d" x="358" y="2138.4"/></g>
<g id="n407"><use href="#d" x="358" y="2158.6"/></g>
<g id="n408"><use href="#d" x="291.2" y="2097.8"/></g>
<g id="n409"><use href="#d" x="291.2" y="2118.1"/></g>
<g id="n410"><use href="#d" x="291.2" y="2138.4"/></g>
<g id="n411"><use href="#d" x="291.2" y="2158.6"/></g>
<g id="n412"><use href="#d" x="291.2" y="2178.9"/></g>
<g id="n413"><use href="#d" x="291.2" y="2199.2"/></g>
<g id="n414"><use href="#d" x="291.2" y="2219.4"/></g>
<g id="n415"><use href="#d" x="291.2" y="2239.7"/></g>
<g id="n416"><use href="#d" x="291.2" y="2260"/></g>
<g id="n417"><use href="#d" x="291.2" y="2280.2"/></g>
<g id="n418"><use href="#d" x="474" y="1854.6"/></g>
<g id="n419"><use href="#d" x="474" y="1874.8"/></g>
<g id="n420"><use href="#d" x="474" y="1895.1"/></g>
<g id="n421"><use href="#d" x="489.8" y="1915.4"/></g>
<g id="n422"><use href="#d" x="489.8" y="1935.7"/></g>
<g id="n423"><use href="#d" x="489.8" y="1955.9"/></g>
<g id="n424"><use href="#d" x="489.8" y="1976.2"/></g>
<g id="n425"><use href="#d" x="489.8" y="1996.5"/></g>
<g id="n426"><use href="#d" x="507" y="2016.7"/></g>
<g id="n427"><use href="#d" x="507" y="2037"/></g>
<g id="n428"><use href="#d" x="507" y="2057.3"/></g>
<g id="n429"><use href="#d" x="507" y="2077.5"/></g>
<g id="n430"><use href="#d" x="507" y="1854.6"/></g>
<g id="n431"><use href="#d" x="507" y="1874.8"/></g>
<g id="n432"><use href="#d" x="523.1" y="1935.7"/></g>
<g id="n433"><use href="#d" x="523.1" y="1955.9"/></g>
<g id="n434"><use href="#d" x="523.1" y="1976.2"/></g>
<g id="n435"><use href="#d" x="523.1" y="1996.5"/></g>
<g id="n436"><use href="#d" x="540.4" y="2057.3"/></g>
<g id="n437"><use href="#d" x="540.4" y="2077.5"/></g>
<g id="n438"><use href="#d" x="407.2" y="1935.7"/></g>
<g id="n439"><use href="#d" x="407.2" y="1955.9"/></g>
<g id="n440"><use href="#d" x="407.2" y="1976.2"/></g>
<g id="n441"><use href="#d" x="407.2" y="1996.5"/></g>
<g id="n442"><use href="#d" x="407.2" y="2016.7"/></g>
<g id="n443"><use href="#d" x="407.2" y="2037"/></g>
<g id="n444"><use href="#d" x="407.2" y="2057.3"/></g>
<g id="n445"><use href="#d" x="407.2" y="2077.5"/></g>
<g id="n446"><use href="#d" x="373.9" y="1976.2"/></g>
<g id="n447"><use href="#d" x="373.9" y="1996.5"/></g>
<g id="n448"><use href="#d" x="373.9" y="2016.7"/></g>
<g id="n449"><use href="#d" x="373.9" y="2037"/></g>
<g id="n450"><use href="#d" x="474" y="2016.7"/></g>
<g id="n451"><use href="#d" x="474" y="2037"/></g>
<g id="n452"><use href="#d" x="474" y="2057.3"/></g>
<g id="n453"><use href="#d" x="474" y="2077.5"/></g>
<g id="n454"><use href="#d" x="474" y="2097.8"/></g>
<g id="n455"><use href="#d" x="474" y="2118.1"/></g>
<g id="n456"><use href="#d" x="474" y="2138.4"/></g>
<g id="n457"><use href="#d" x="474" y="2158.6"/></g>
<g id="n458"><use href="#d" x="474" y="2178.9"/></g>
<g id="n459"><use href="#d" x="474" y="2199.2"/></g>
<g id="n460"><use href="#d" x="474" y="2219.4"/></g>
<g id="n461"><use href="#d" x="474" y="2239.7"/></g>
<g id="n462"><use href="#d" x="474" y="2260"/></g>
<g id="n463"><use href="#d" x="474" y="2280.2"/></g>
<g id="n464"><use href="#d" x="474" y="2300.5"/></g>
<g id="n465"><use href="#d" x="474" y="2320.8"/></g>
<g id="n466"><use href="#d" x="474" y="2341.1"/></g>
<g id="n467"><use href="#d" x="474" y="2361.3"/></g>
<g id="n468"><use href="#d" x="440.6" y="2057.3"/></g>
<g id="n469"><use href="#d" x="440.6" y="2077.5"/></g>
<g id="n470"><use href="#d" x="457.8" y="2381.6"/></g>
<g id="n471"><use href="#d" x="457.8" y="2401.9"/></g>
<g id="n472"><use href="#d" x="457.8" y="2422.1"/></g>
<g id="n473"><use href="#d" x="457.8" y="2442.4"/></g>
<g id="n474"><use href="#d" x="457.8" y="2462.7"/></g>
<g id="n475"><use href="#d" x="457.8" y="2482.9"/></g>
<g id="n476"><use href="#d" x="457.8" y="2503.2"/></g>
<g id="n477"><use href="#d" x="457.8" y="2523.5"/></g>
<g id="n478"><use href="#d" x="457.8" y="2543.8"/></g>
<g id="n479"><use href="#d" x="457.8" y="2564"/></g>
<g id="n480"><use href="#d" x="457.8" y="2584.3"/></g>
<g id="n481"><use href="#d" x="457.8" y="2604.6"/></g>
<g id="n482"><use href="#d" x="424.4" y="2462.7"/></g>
<g id="n483"><use href="#d" x="424.4" y="2482.9"/></g>
<g id="n484"><use href="#d" x="491.2" y="2381.6"/></g>
<g id="n485"><use href="#d" x="491.2" y="2401.9"/></g>
<g id="n486"><use href="#d" x="491.2" y="2422.1"/></g>
<g id="n487"><use href="#d" x="491.2" y="2442.4"/></g>
<g id="n488"><use href="#d" x="491.2" y="2462.7"/></g>
<g id="n489"><use href="#d" x="491.2" y="2482.9"/></g>
<g id="n490"><use href="#d" x="491.2" y="2503.2"/></g>
<g id="n491"><use href="#d" x="491.2" y="2523.5"/></g>
<g id="n492"><use href="#d" x="491.2" y="2543.8"/></g>
<g id="n493"><use href="#d" x="491.2" y="2564"/></g>
<g id="n494"><use href="#d" x="491.2" y="2584.3"/></g>
<g id="n495"><use href="#d" x="491.2" y="2604.6"/></g>
<g id="n496"><use href="#d" x="491.2" y="2624.8"/></g>
<g id="n497"><use href="#d" x="491.2" y="2645.1"/></g>
<g id="n498"><use href="#d" x="491.2" y="2665.4"/></g>
<g id="n499"><use href="#d" x="491.2" y="2685.6"/></g>
<g id="n500"><use href="#d" x="524.2" y="2422.1"/></g>
<g id="n501"><use href="#d" x="524.2" y="2442.4"/></g>
<g id="n502"><use href="#d" x="524.2" y="2462.7"/></g>
<g id="n503"><use href="#d" x="524.2" y="2482.9"/></g>
<g id="n504"><use href="#d" x="524.2" y="2503.2"/></g>
<g id="n505"><use href="#d" x="524.2" y="2523.5"/></g>
<g id="n506"><use href="#d" x="475" y="2705.9"/></g>
<g id="n507"><use href="#d" x="475" y="2726.2"/></g>
<g id="n508"><use href="#d" x="508.3" y="2705.9"/></g>
<g id="n509"><use href="#d" x="508.3" y="2726.2"/></g>
<g id="n510"><use href="#d" x="508.3" y="2746.5"/></g>
<g id="n511"><use href="#d" x="508.3" y="2766.7"/></g>
</g>
</svg>
